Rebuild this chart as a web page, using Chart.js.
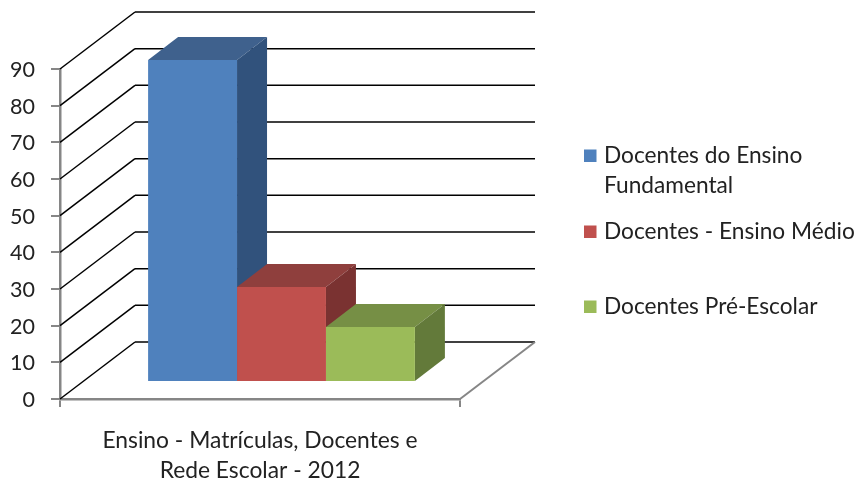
<!DOCTYPE html>
<html lang="pt">
<head>
<meta charset="UTF-8">
<title>Ensino - Docentes 2012</title>
<style>
  html, body { margin: 0; padding: 0; background: #fff; }
  #wrap { width: 856px; height: 479px; position: relative; }
</style>
</head>
<body>
<div id="wrap"><canvas id="chart" width="856" height="479"></canvas></div>
<script src="https://cdn.jsdelivr.net/npm/chart.js@4"></script>
<script>
const categories = [["Ensino - Matrículas, Docentes e", "Rede Escolar - 2012"]];
const seriesNames = ["Docentes do Ensino Fundamental", "Docentes - Ensino Médio", "Docentes Pré-Escolar"];
const legendLines = [["Docentes do Ensino", "Fundamental"], ["Docentes - Ensino Médio"], ["Docentes Pré-Escolar"]];
const fundamental = [87.8];
const medio = [25.9];
const preEscolar = [15];
const tickValues = [0, 10, 20, 30, 40, 50, 60, 70, 80, 90];

const frontColors = ["#4f81bd", "#c0504d", "#9bbb59"];
const topColors = ["#3f618d", "#8f3f3d", "#768f45"];
const sideColors = ["#31527c", "#7a3231", "#637a3a"];

const FONT = "Lato";
// depth of the floor/walls and of the bars, in px
const wallX = 75, wallY = -57;
const barShiftX = 21.5, barShiftY = -17;
const depthX = 30, depthY = -23;

function line(ctx, x1, y1, x2, y2) {
  ctx.beginPath();
  ctx.moveTo(x1, y1);
  ctx.lineTo(x2, y2);
  ctx.stroke();
}

function poly(ctx, pts, color) {
  ctx.fillStyle = color;
  ctx.beginPath();
  pts.forEach((p, i) => i ? ctx.lineTo(p[0], p[1]) : ctx.moveTo(p[0], p[1]));
  ctx.closePath();
  ctx.fill();
}

const box3d = {
  id: 'box3d',
  beforeDatasetsDraw(chart) {
    const { ctx, chartArea: a, scales: { y } } = chart;
    ctx.save();
    // walls
    ctx.strokeStyle = '#000';
    ctx.lineWidth = 1.5;
    tickValues.forEach(v => {
      const py = y.getPixelForValue(v);
      line(ctx, a.left, py, a.left + wallX, py + wallY);
      line(ctx, a.left + wallX, py + wallY, a.right + wallX, py + wallY);
    });
    ctx.strokeStyle = '#868686';
    ctx.lineWidth = 2;
    line(ctx, a.right, a.bottom, a.right + wallX, a.bottom + wallY);

    // top and side faces, left to right so the nearer ones cover the others
    ctx.translate(barShiftX, barShiftY);
    chart.data.datasets.forEach((ds, i) => {
      const b = chart.getDatasetMeta(i).data[0];
      const l = b.x - b.width / 2, r = b.x + b.width / 2;
      poly(ctx, [[l, b.y], [l + depthX, b.y + depthY], [r + depthX, b.y + depthY], [r, b.y]], topColors[i]);
      poly(ctx, [[r, b.y], [r + depthX, b.y + depthY], [r + depthX, b.base + depthY], [r, b.base]], sideColors[i]);
    });
    ctx.restore();
    // fronts are drawn by the library, shifted the same way
    ctx.save();
    ctx.translate(barShiftX, barShiftY);
  },
  afterDatasetsDraw(chart) {
    chart.ctx.restore();
  },
  afterDraw(chart) {
    const ctx = chart.ctx;
    ctx.save();
    ctx.font = '22.7px ' + FONT;
    ctx.textBaseline = 'middle';
    const rows = [156, 232, 307];
    legendLines.forEach((lines, i) => {
      ctx.fillStyle = frontColors[i];
      ctx.fillRect(584, rows[i] - 6.5, 12.5, 12.5);
      ctx.fillStyle = '#222';
      lines.forEach((t, j) => ctx.fillText(t, 604, rows[i] + j * 30));
    });
    ctx.restore();
  }
};

new Chart(document.getElementById('chart'), {
  type: 'bar',
  data: {
    labels: categories,
    datasets: [
      { label: seriesNames[0], data: fundamental, backgroundColor: frontColors[0] },
      { label: seriesNames[1], data: medio, backgroundColor: frontColors[1] },
      { label: seriesNames[2], data: preEscolar, backgroundColor: frontColors[2] }
    ]
  },
  options: {
    responsive: false,
    animation: false,
    layout: { padding: { top: 69, right: 396, left: 0, bottom: 0 } },
    plugins: { legend: { display: false }, tooltip: { enabled: false } },
    datasets: { bar: { categoryPercentage: 0.667, barPercentage: 1, clip: false } },
    scales: {
      x: {
        afterFit(s) { s.height = 80; },
        grid: { drawOnChartArea: false, color: '#868686', tickLength: 8, lineWidth: 2 },
        border: { color: '#868686', width: 2.5 },
        ticks: { color: '#222', padding: 19, font: { family: FONT, size: 22.8, lineHeight: 1.3 }, maxRotation: 0 }
      },
      y: {
        min: 0,
        max: 90,
        afterFit(s) { s.width = 60; },
        afterBuildTicks(s) { s.ticks = tickValues.map(v => ({ value: v })); },
        grid: { drawOnChartArea: false, color: '#868686', tickLength: 9, lineWidth: 2 },
        border: { color: '#868686', width: 2.5 },
        ticks: { color: '#222', padding: 16, labelOffset: 1, font: { family: FONT, size: 21.5 } }
      }
    }
  },
  plugins: [box3d]
});
</script>
</body>
</html>
